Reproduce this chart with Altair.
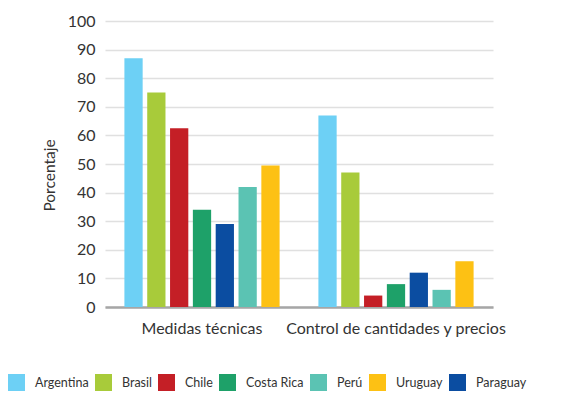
import altair as alt
import pandas as pd

# Grupos de medidas y países (orden de las barras dentro de cada grupo)
categorias = ["Medidas técnicas", "Control de cantidades y precios"]
paises = ["Argentina", "Brasil", "Chile", "Costa Rica", "Paraguay", "Perú", "Uruguay"]
medidas_tecnicas = [87, 75, 62.5, 34, 29, 42, 49.5]
control_cantidades = [67, 47, 4, 8, 12, 6, 16]
colores = ["#6dd0f5", "#a8cb3a", "#c41f26", "#1ea169", "#0b4da1", "#5bc3b3", "#fdc114"]
orden_leyenda = ["Argentina", "Brasil", "Chile", "Costa Rica", "Perú", "Uruguay", "Paraguay"]
ticks_y = [0, 10, 20, 30, 40, 50, 60, 70, 80, 90, 100]

filas = []
for cat, valores in zip(categorias, [medidas_tecnicas, control_cantidades]):
    for pais, v in zip(paises, valores):
        filas.append({"categoria": cat, "pais": pais, "porcentaje": v})
df = pd.DataFrame(filas)

FUENTE = "Lato"
TEXTO = "#333333"

chart = (
    alt.Chart(df)
    .mark_bar()
    .encode(
        x=alt.X(
            "categoria:N",
            sort=categorias,
            title=None,
            scale=alt.Scale(paddingInner=0.2, paddingOuter=0.1),
            axis=alt.Axis(
                labelAngle=0,
                labelFontSize=16,
                labelFont=FUENTE,
                labelColor=TEXTO,
                labelPadding=13,
                labelLimit=0,
                ticks=False,
                domainColor="#a6a6a6",
                domainWidth=2.5,
                grid=False,
            ),
        ),
        xOffset=alt.XOffset(
            "pais:N", sort=paises, scale=alt.Scale(paddingInner=0.2, paddingOuter=0)
        ),
        y=alt.Y(
            "porcentaje:Q",
            title="Porcentaje",
            scale=alt.Scale(domain=[0, 100], nice=False),
            axis=alt.Axis(
                values=ticks_y,
                labelFontSize=16,
                labelFont=FUENTE,
                labelColor=TEXTO,
                labelPadding=10,
                ticks=False,
                domain=False,
                gridColor="#e0e0e0",
                gridWidth=1.5,
                titleFont=FUENTE,
                titleFontSize=15.5,
                titleFontWeight="normal",
                titleColor=TEXTO,
                titlePadding=10,
                titleY=154,
            ),
        ),
        color=alt.Color(
            "pais:N",
            scale=alt.Scale(domain=paises, range=colores),
            legend=alt.Legend(
                title=None,
                values=orden_leyenda,
                orient="none",
                direction="horizontal",
                columns=7,
                legendX=-97,
                legendY=353,
                padding=0,
                symbolType="square",
                symbolSize=289,
                symbolStrokeWidth=0,
                symbolOpacity=1,
                labelFont=FUENTE,
                labelFontSize=12.5,
                labelColor=TEXTO,
                labelOffset=10,
                columnPadding=6,
            ),
        ),
    )
    .properties(
        width=388,
        height=286,
        autosize=alt.AutoSizeParams(type="none"),
        padding={"left": 105, "top": 21, "right": 83, "bottom": 86},
    )
    .configure_view(stroke=None)
)

chart.save("out.html", embed_options={"renderer": "svg", "actions": False})
